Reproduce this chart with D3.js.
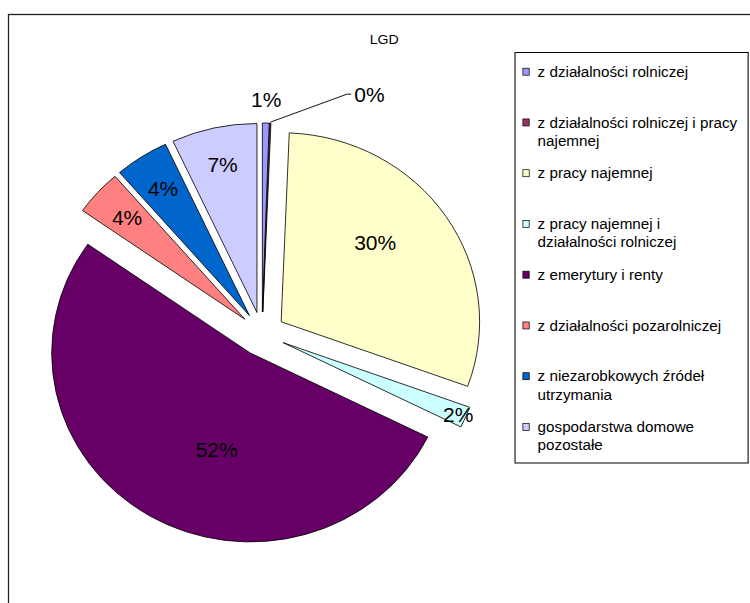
<!DOCTYPE html>
<html>
<head>
<meta charset="utf-8">
<script src="https://cdn.jsdelivr.net/npm/d3@7"></script>
<style>
  body { margin: 0; background: #fff; }
  svg { display: block; font-family: "Liberation Sans", Arial, sans-serif; }
</style>
</head>
<body>
<div id="chart"></div>
<script>
var title = "LGD";
var categories = [
  "z działalności rolniczej",
  "z działalności rolniczej i pracy najemnej",
  "z pracy najemnej",
  "z pracy najemnej i działalności rolniczej",
  "z emerytury i renty",
  "z działalności pozarolniczej",
  "z niezarobkowych źródeł utrzymania",
  "gospodarstwa domowe pozostałe"
];
// shares in percent
var values = [0.55, 0.1, 29.9, 1.8, 52.4, 3.9, 4.4, 6.95];
var colors = ["#9999FF", "#993366", "#FFFFCC", "#CCFFFF", "#660066", "#FF8080", "#0066CC", "#CCCCFF"];

var W = 750, H = 603;
var sx = 1.05; // the original picture is slightly stretched sideways
var cx = 249.5, cy = 334, r = 189, explode = 22;

var svg = d3.select("#chart").append("svg")
  .attr("width", W)
  .attr("height", H);

// chart area frame, runs off the page right and bottom
svg.append("rect")
  .attr("x", 8.5).attr("y", 14.5)
  .attr("width", 900).attr("height", 900)
  .attr("fill", "#fff")
  .attr("stroke", "#222")
  .attr("stroke-width", 1.3);

var g = svg.append("g").attr("transform", "scale(" + sx + ",1)");

g.append("text")
  .attr("x", 366).attr("y", 44.5)
  .attr("text-anchor", "middle")
  .attr("font-size", 13.5)
  .text(title);

var total = d3.sum(values);
var fmt = d3.format(".0%");
var pie = d3.pie().sort(null).value(function(d) { return d; });
var arc = d3.arc().innerRadius(0).outerRadius(r);
var arcs = pie(values);

var mid = function(d) { return (d.startAngle + d.endAngle) / 2; };
var polar = function(a, rad) { return [Math.sin(a) * rad, -Math.cos(a) * rad]; };

var pieG = g.append("g").attr("transform", "translate(" + cx + "," + cy + ")");

var slice = pieG.selectAll("g.slice").data(arcs).enter().append("g")
  .attr("class", "slice")
  .attr("transform", function(d) {
    var o = polar(mid(d), explode);
    return "translate(" + o[0] + "," + o[1] + ")";
  });

slice.append("path")
  .attr("d", arc)
  .attr("fill", function(d, i) { return colors[i]; })
  .attr("stroke", "#000")
  .attr("stroke-width", 0.8)
  .attr("stroke-linejoin", "round");

// label placement, roughly like Excel's best fit
var labelPos = function(d) {
  var v = d.value / total, a = mid(d), rad;
  if (v >= 0.2) { a -= 0.01 + 0.4 * v; rad = r * (0.75 - 0.4 * v); }
  else if (v >= 0.03) rad = r * 0.8;
  else if (v >= 0.01) rad = r * 0.96;
  else rad = r + 23;
  return polar(a, rad);
};

slice.filter(function(d) { return d.value / total >= 0.003; })
  .append("text")
  .attr("x", function(d) { return labelPos(d)[0]; })
  .attr("y", function(d) { return labelPos(d)[1]; })
  .attr("text-anchor", "middle")
  .attr("dominant-baseline", "central")
  .attr("font-size", 20)
  .attr("fill", "#000")
  .text(function(d) { return fmt(d.value / total); });

// tiny slices get a leader line
var tiny = slice.filter(function(d) { return d.value / total < 0.003; });
tiny.each(function(d) {
  var p0 = polar(mid(d), r + 1);
  var p1 = [p0[0] + 73, p0[1] - 28];
  var p2 = [p1[0] + 4, p1[1]];
  d3.select(this).append("path")
    .attr("d", d3.line()([p0, p1, p2]))
    .attr("fill", "none")
    .attr("stroke", "#000")
    .attr("stroke-width", 0.9);
  d3.select(this).append("text")
    .attr("x", p2[0] + 3)
    .attr("y", p2[1] + 1)
    .attr("dominant-baseline", "central")
    .attr("font-size", 20)
    .text(fmt(d.value / total));
});

// legend
var lx = 490.5, ly = 52.5, lw = 222, lh = 410.5;
var legend = g.append("g");
legend.append("rect")
  .attr("x", lx).attr("y", ly)
  .attr("width", lw).attr("height", lh)
  .attr("fill", "#fff")
  .attr("stroke", "#000")
  .attr("stroke-width", 1);

var yBand = d3.scaleBand().domain(categories).range([ly + 0.5, ly + 406.5]);
var lineH = 18.4, wrapW = 193, fontL = 14.5;

var item = legend.selectAll("g.item").data(categories).enter().append("g")
  .attr("class", "item")
  .attr("transform", function(d) { return "translate(0," + (yBand(d) + 18.7) + ")"; });

item.append("rect")
  .attr("x", lx + 7.5).attr("y", -3.5)
  .attr("width", 6).attr("height", 7)
  .attr("fill", function(d, i) { return colors[i]; })
  .attr("stroke", "#000")
  .attr("stroke-width", 0.7);

item.each(function(d) {
  var t = d3.select(this).append("text")
    .attr("font-size", fontL)
    .attr("fill", "#000");
  var words = d.split(" "), line = [], n = 0;
  var tspan = t.append("tspan").attr("x", lx + 21.5).attr("y", 0).attr("dy", "0.35em");
  words.forEach(function(w) {
    line.push(w);
    tspan.text(line.join(" "));
    if (tspan.node().getComputedTextLength() > wrapW && line.length > 1) {
      line.pop();
      tspan.text(line.join(" "));
      line = [w];
      n++;
      tspan = t.append("tspan").attr("x", lx + 21.5).attr("y", n * lineH).attr("dy", "0.35em").text(w);
    }
  });
});
</script>
</body>
</html>
